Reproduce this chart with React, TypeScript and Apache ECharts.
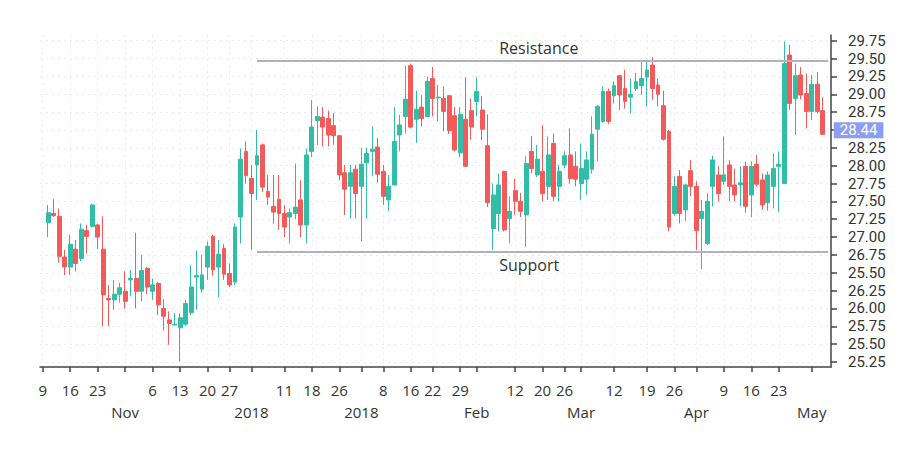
import React, { useEffect, useRef } from 'react';
import * as echarts from 'echarts';

// Trading calendar (NYSE holidays in the period)
const holidays = ['2017-11-23', '2017-12-25', '2018-01-01', '2018-01-15', '2018-02-19', '2018-03-30'];
const firstDay = '2017-10-09';
const lastDay = '2018-05-03';
const padDay = '2018-05-04';

// Candles from 2017-10-10 to 2018-05-03 (one per trading day)
const opens = [
  27.20, 27.33, 27.29, 26.72, 26.58, 26.83, 26.70, 27.09, 27.15, 27.17,
  26.83, 26.14, 26.12, 26.20, 26.24, 26.40, 26.42, 26.24, 26.56, 26.24,
  26.35, 26.00, 25.84, 25.77, 25.73, 25.78, 25.94, 26.44, 26.27, 26.58,
  27.01, 26.58, 26.84, 26.49, 26.37, 27.28, 28.20, 27.82, 28.01, 28.29,
  27.64, 27.43, 27.53, 27.33, 27.28, 27.33, 27.52, 27.17, 28.20, 28.63,
  28.68, 28.66, 28.56, 28.42, 27.90, 27.71, 27.95, 27.71, 28.04, 28.20,
  28.26, 27.92, 27.52, 27.73, 28.43, 28.69, 29.40, 28.65, 28.82, 28.69,
  29.22, 28.95, 28.94, 28.98, 28.70, 28.18, 28.65, 28.77, 28.90, 28.78,
  28.28, 27.12, 27.33, 27.92, 27.26, 27.65, 27.50, 27.31, 28.20, 27.87,
  27.92, 27.71, 28.31, 27.71, 28.01, 28.15, 27.99, 27.75, 27.81, 27.95,
  28.51, 28.62, 29.04, 28.98, 29.26, 29.08, 28.96, 29.08, 29.12, 29.24,
  29.41, 29.13, 28.84, 28.48, 27.33, 27.85, 27.38, 27.93, 27.71, 27.26,
  26.91, 27.71, 27.87, 27.78, 28.01, 27.73, 27.73, 27.99, 27.59, 28.02,
  27.80, 27.48, 27.71, 27.99, 27.75, 29.55, 28.94, 29.27, 29.01, 28.76,
  29.14, 28.77,
];
const closes = [
  27.34, 27.30, 26.73, 26.58, 26.90, 26.63, 27.11, 27.01, 27.45, 27.00,
  26.19, 26.12, 26.20, 26.29, 26.10, 26.42, 26.24, 26.53, 26.30, 26.33,
  26.05, 25.89, 25.79, 25.78, 25.87, 26.07, 26.30, 26.46, 26.47, 26.87,
  26.54, 26.76, 26.48, 26.33, 27.14, 28.09, 27.86, 27.61, 28.14, 27.70,
  27.56, 27.35, 27.33, 27.14, 27.34, 27.42, 27.17, 28.15, 28.54, 28.69,
  28.54, 28.43, 28.42, 27.87, 27.67, 27.90, 27.61, 28.02, 28.17, 28.23,
  27.88, 27.57, 27.71, 28.34, 28.57, 28.93, 28.54, 28.79, 28.66, 29.18,
  28.94, 28.96, 28.76, 28.49, 28.22, 28.72, 27.99, 28.54, 29.04, 28.51,
  27.48, 27.59, 27.73, 27.10, 27.36, 27.50, 27.36, 28.03, 27.96, 28.09,
  27.61, 28.15, 27.57, 27.92, 28.14, 27.82, 27.81, 27.96, 28.08, 28.44,
  28.83, 29.04, 28.62, 29.12, 28.99, 28.90, 29.00, 29.18, 29.22, 29.34,
  29.08, 29.00, 28.37, 27.14, 27.71, 27.33, 27.73, 27.71, 27.09, 27.36,
  27.50, 28.08, 27.61, 27.87, 27.71, 27.59, 27.76, 27.43, 27.99, 27.74,
  27.45, 27.87, 27.96, 28.02, 29.43, 28.87, 29.26, 28.99, 28.76, 29.14,
  28.76, 28.44,
];
const lows = [
  27.00, 27.28, 26.64, 26.47, 26.47, 26.52, 26.66, 26.77, 27.13, 26.83,
  25.75, 25.75, 25.98, 26.08, 26.00, 26.17, 26.00, 26.10, 26.20, 26.12,
  25.91, 25.69, 25.49, 25.76, 25.26, 25.76, 25.91, 25.98, 26.22, 26.40,
  26.46, 26.16, 26.40, 26.30, 26.33, 26.91, 27.75, 26.82, 27.52, 27.63,
  27.45, 27.19, 27.10, 27.00, 26.91, 27.25, 27.00, 26.91, 28.12, 28.29,
  28.27, 28.27, 28.29, 27.80, 27.31, 27.26, 27.26, 26.94, 27.26, 27.85,
  27.76, 27.45, 27.36, 27.72, 28.20, 28.45, 28.52, 28.32, 28.55, 28.69,
  28.69, 28.62, 28.48, 28.44, 28.20, 28.12, 27.98, 28.36, 28.69, 28.36,
  27.42, 26.82, 27.08, 27.08, 26.91, 27.31, 27.28, 26.86, 27.89, 27.84,
  27.50, 27.52, 27.50, 27.50, 27.96, 27.75, 27.71, 27.52, 27.59, 27.89,
  28.06, 28.60, 28.58, 28.87, 28.78, 28.80, 28.73, 29.05, 28.99, 28.83,
  28.92, 28.83, 28.35, 27.08, 27.30, 27.19, 27.23, 27.57, 26.82, 26.55,
  26.89, 27.43, 27.50, 27.73, 27.50, 27.50, 27.43, 27.34, 27.28, 27.71,
  27.38, 27.37, 27.40, 27.35, 27.75, 28.78, 28.43, 28.93, 28.52, 28.64,
  28.73, 28.43,
];
const highs = [
  27.45, 27.53, 27.40, 26.82, 27.03, 26.96, 27.19, 27.17, 27.47, 27.19,
  27.29, 26.33, 26.40, 26.36, 26.52, 26.54, 27.06, 26.75, 26.58, 26.42,
  26.37, 26.13, 25.96, 25.94, 25.93, 26.12, 26.61, 26.81, 26.75, 26.94,
  27.03, 26.96, 26.90, 26.63, 27.19, 28.24, 28.34, 28.01, 28.50, 28.31,
  27.87, 27.87, 27.87, 27.45, 27.40, 28.03, 27.80, 28.24, 28.92, 28.83,
  28.82, 28.77, 28.74, 28.43, 28.01, 28.01, 28.01, 28.25, 28.25, 28.55,
  28.39, 28.01, 27.87, 28.82, 28.71, 29.40, 29.43, 29.05, 28.99, 29.25,
  29.38, 29.13, 29.11, 28.99, 28.82, 28.82, 29.24, 28.94, 29.24, 28.98,
  28.72, 27.75, 27.89, 27.93, 27.57, 27.82, 27.62, 28.13, 28.41, 28.29,
  28.57, 28.41, 28.45, 28.01, 28.20, 28.52, 28.20, 28.31, 28.20, 28.69,
  28.85, 29.11, 29.08, 29.18, 29.27, 29.34, 29.22, 29.30, 29.47, 29.47,
  29.52, 29.22, 29.05, 28.50, 27.85, 27.94, 27.75, 28.08, 27.78, 27.52,
  27.62, 28.14, 27.99, 28.41, 28.08, 27.96, 27.99, 28.06, 28.06, 28.15,
  27.89, 27.92, 28.17, 28.20, 29.74, 29.69, 29.43, 29.38, 29.29, 29.27,
  29.31, 28.96,
];

// X tick labels (first row: day numbers, second row: periods)
const dayTicks: [string, string][] = [
  ['2017-10-09', '9'], ['2017-10-16', '16'], ['2017-10-23', '23'],
  ['2017-11-06', '6'], ['2017-11-13', '13'], ['2017-11-20', '20'], ['2017-11-27', '27'],
  ['2017-12-11', '11'], ['2017-12-18', '18'], ['2017-12-26', '26'],
  ['2018-01-08', '8'], ['2018-01-16', '16'], ['2018-01-22', '22'], ['2018-01-29', '29'],
  ['2018-02-12', '12'], ['2018-02-20', '20'], ['2018-02-26', '26'],
  ['2018-03-09', '12'], ['2018-03-19', '19'], ['2018-03-26', '26'],
  ['2018-04-09', '9'], ['2018-04-16', '16'], ['2018-04-23', '23'],
];
const periodTicks: [string, string][] = [
  ['2017-10-30', 'Nov'], ['2017-12-01', '2018'], ['2018-01-02', '2018'],
  ['2018-02-01', 'Feb'], ['2018-03-01', 'Mar'], ['2018-04-02', 'Apr'], ['2018-05-01', 'May'],
];

// Y ticks and their labels as shown
const yTickValues = [25.25, 25.5, 25.75, 26.0, 26.25, 26.5, 26.75, 27.0, 27.25, 27.5, 27.75, 28.0, 28.25, 28.5, 28.75, 29.0, 29.25, 29.5, 29.75];
const yTickLabels = ['25.25', '25.50', '25.75', '26.00', '26.25', '25.50', '26.75', '27.00', '27.25', '27.50', '27.75', '28.00', '28.25', '28.50', '28.75', '29.00', '29.25', '29.50', '29.75'];
const yHiddenLabel = 28.5;
const yMin = 25.18;
const yMax = 29.83;

// Levels
const resistance = 29.47;
const support = 26.79;
const levelStart = '2017-12-04';
const levelLabelDate = '2018-02-07';

const GREEN = '#31bda6';
const RED = '#f55a5b';
const AXIS = '#444444';
const TEXT = '#333333';
const GRID = '#ebebeb';
const FONT = "'Open Sans', 'Noto Sans', sans-serif";
const YFONT = "Roboto, 'Open Sans', sans-serif";

function buildCategories(): string[] {
  const out: string[] = [];
  const [y0, m0, d0] = firstDay.split('-').map(Number);
  const [y1, m1, d1] = lastDay.split('-').map(Number);
  const end = Date.UTC(y1, m1 - 1, d1);
  for (let t = Date.UTC(y0, m0 - 1, d0); t <= end; t += 86400000) {
    const d = new Date(t);
    const wd = d.getUTCDay();
    const s = d.toISOString().slice(0, 10);
    if (wd === 0 || wd === 6 || holidays.includes(s)) continue;
    out.push(s);
  }
  out.push(padDay);
  return out;
}

export default function App() {
  const ref = useRef<HTMLDivElement>(null);

  useEffect(() => {
    if (!ref.current) return;
    const chart = echarts.init(ref.current, null, { renderer: 'svg' });
    const categories = buildCategories();
    const firstCandle = categories.indexOf('2017-10-10');
    const candleData = categories.map((_, i) => {
      const k = i - firstCandle;
      if (k >= 0 && k < opens.length) return [opens[k], closes[k], lows[k], highs[k]];
      return ['-', '-', '-', '-'];
    });
    const dayMap = new Map(dayTicks);
    const periodMap = new Map(periodTicks);
    const tickSet = new Set([...dayTicks.map((d) => d[0]), ...periodTicks.map((d) => d[0])]);
    const lastClose = closes[closes.length - 1];
    const yLabel = (v: number) => {
      const i = yTickValues.findIndex((t) => Math.abs(t - v) < 1e-6);
      return i >= 0 ? yTickLabels[i] : '';
    };

    const option: any = {
      animation: false,
      backgroundColor: '#ffffff',
      textStyle: { fontFamily: FONT },
      grid: { left: 40, right: 69, top: 35, bottom: 83 },
      xAxis: [
        {
          type: 'category',
          data: categories,
          boundaryGap: true,
          axisLine: { show: true, lineStyle: { color: AXIS, width: 1.5 } },
          axisTick: {
            show: true,
            alignWithLabel: true,
            length: 5,
            interval: (_i: number, v: string) => tickSet.has(v),
            lineStyle: { color: AXIS, width: 1.5 },
          },
          axisLabel: {
            interval: (_i: number, v: string) => dayMap.has(v),
            formatter: (v: string) => dayMap.get(v) ?? '',
            color: TEXT,
            fontSize: 15,
            lineHeight: 16,
            fontFamily: FONT,
            margin: 15,
          },
          splitLine: {
            show: true,
            alignWithLabel: true,
            interval: (_i: number, v: string) => tickSet.has(v),
            lineStyle: { color: GRID, type: [2, 4], width: 1 },
          },
        },
        {
          type: 'category',
          data: categories,
          gridIndex: 0,
          position: 'bottom',
          boundaryGap: true,
          axisLine: { show: false },
          axisTick: { show: false },
          splitLine: { show: false },
          axisLabel: {
            interval: (_i: number, v: string) => periodMap.has(v),
            formatter: (v: string) => periodMap.get(v) ?? '',
            color: TEXT,
            fontSize: 15,
            lineHeight: 16,
            fontFamily: FONT,
            margin: 37,
          },
        },
      ],
      yAxis: {
        type: 'value',
        position: 'right',
        min: yMin,
        max: yMax,
        axisLine: { show: true, lineStyle: { color: AXIS, width: 1.5 } },
        axisTick: { show: true, length: 6, customValues: yTickValues, lineStyle: { color: AXIS, width: 1.5 } },
        axisLabel: {
          customValues: yTickValues.filter((v) => v !== yHiddenLabel),
          formatter: (v: number) => yLabel(v),
          color: TEXT,
          fontSize: 15,
          lineHeight: 15,
          fontFamily: YFONT,
          margin: 17,
        },
        splitLine: { show: true, lineStyle: { color: GRID, type: [2, 4], width: 1 } },
      },
      series: [
        {
          type: 'candlestick',
          xAxisIndex: 0,
          yAxisIndex: 0,
          data: candleData,
          barWidth: '80%',
          itemStyle: {
            color: GREEN,
            color0: RED,
            borderColor: GREEN,
            borderColor0: RED,
            borderWidth: 1,
          },
          markLine: {
            silent: true,
            symbol: 'none',
            label: { show: false },
            data: [
              [
                { coord: [levelStart, resistance], lineStyle: { color: '#afb1c1', width: 2, type: 'solid' } },
                { coord: [padDay, resistance] },
              ],
              [
                { coord: [levelStart, support], lineStyle: { color: '#afb1c1', width: 2, type: 'solid' } },
                { coord: [padDay, support] },
              ],
            ],
          },
          markPoint: {
            silent: true,
            symbol: 'circle',
            symbolSize: 1,
            itemStyle: { color: 'rgba(0,0,0,0)' },
            data: [
              {
                coord: [levelLabelDate, resistance],
                label: {
                  show: true,
                  position: 'right',
                  distance: 0,
                  offset: [0, -13],
                  formatter: 'Resistance',
                  color: TEXT,
                  fontSize: 16,
                  fontFamily: FONT,
                },
              },
              {
                coord: [levelLabelDate, support],
                label: {
                  show: true,
                  position: 'right',
                  distance: 0,
                  offset: [0, 13],
                  formatter: 'Support',
                  color: TEXT,
                  fontSize: 16,
                  fontFamily: FONT,
                },
              },
              {
                coord: [padDay, lastClose],
                label: {
                  show: true,
                  position: 'right',
                  distance: 0,
                  offset: [5, -4],
                  formatter: () => lastClose.toFixed(2),
                  color: '#ffffff',
                  backgroundColor: '#8d9ef2',
                  padding: [1, 6, 0, 6],
                  lineHeight: 15,
                  fontSize: 15,
                  fontFamily: YFONT,
                },
              },
            ],
          },
        },
      ],
    };

    chart.setOption(option);
    return () => chart.dispose();
  }, []);

  return (
    <div
      ref={ref}
      style={{ position: 'fixed', left: 0, top: 0, width: 900, height: 450, background: '#ffffff' }}
    />
  );
}
